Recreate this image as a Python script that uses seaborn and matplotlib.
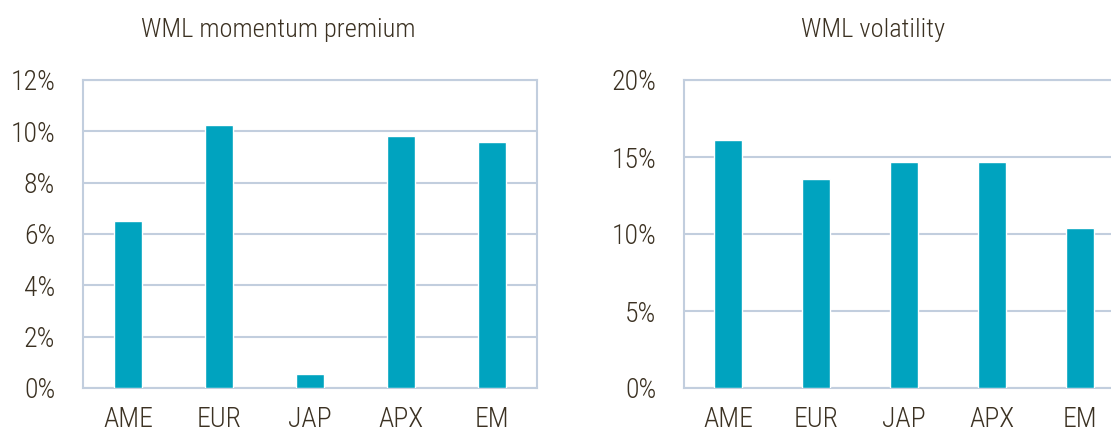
import matplotlib
matplotlib.use("Agg")
import matplotlib.pyplot as plt
from matplotlib import font_manager
import seaborn as sns
import pandas as pd

regions = ["AME", "EUR", "JAP", "APX", "EM"]
premium = [6.5, 10.25, 0.55, 9.8, 9.6]
volatility = [16.1, 13.6, 14.7, 14.65, 10.4]
premium_ticks = [0, 2, 4, 6, 8, 10, 12]
vol_ticks = [0, 5, 10, 15, 20]

BAR = "#00A3BF"
GRID = "#C2CEDE"
TEXT = "#3B3122"

sns.set_style("white")
installed = {f.name for f in font_manager.fontManager.ttflist}
if "Roboto Condensed" in installed:
    plt.rcParams["font.family"] = ["Roboto Condensed", "DejaVu Sans"]
    tick_size, title_size = 20, 19
else:
    plt.rcParams["font.family"] = ["Roboto", "DejaVu Sans"]
    tick_size, title_size = 18, 17
plt.rcParams["font.weight"] = "light"
plt.rcParams["text.color"] = TEXT

fig = plt.figure(figsize=(11.11, 4.33), dpi=100)
ax1 = fig.add_axes([83 / 1111, 1 - 388 / 433, 454 / 1111, 308 / 433])
ax2 = fig.add_axes([684 / 1111, 1 - 388 / 433, 440 / 1111, 308 / 433])


def draw(ax, values, ticks, width):
    df = pd.DataFrame({"region": regions, "value": values})
    sns.barplot(data=df, x="region", y="value", color=BAR, width=width,
                saturation=1, ax=ax, zorder=3)
    ax.set_xlim(-0.5, 4.5)
    ax.set_ylim(ticks[0], ticks[-1])
    ax.set_yticks(ticks)
    ax.set_yticklabels([f"{t}%" for t in ticks])
    ax.set_xlabel("")
    ax.set_ylabel("")
    ax.yaxis.grid(True, color=GRID, linewidth=1.5, zorder=0)
    ax.set_axisbelow(True)
    for s in ax.spines.values():
        s.set_color(GRID)
        s.set_linewidth(1.5)
    ax.tick_params(axis="y", length=0, pad=20, labelsize=tick_size, labelcolor=TEXT)
    ax.tick_params(axis="x", length=0, pad=13, labelsize=tick_size, labelcolor=TEXT)


draw(ax1, premium, premium_ticks, 0.31)
draw(ax2, volatility, vol_ticks, 0.318)

fig.text(278 / 1111, 1 - 30 / 433, "WML momentum premium", ha="center", va="center",
         fontsize=title_size, color=TEXT)
fig.text(873 / 1111, 1 - 30 / 433, "WML volatility", ha="center", va="center",
         fontsize=title_size, color=TEXT)

fig.savefig("out.png", dpi=100)
